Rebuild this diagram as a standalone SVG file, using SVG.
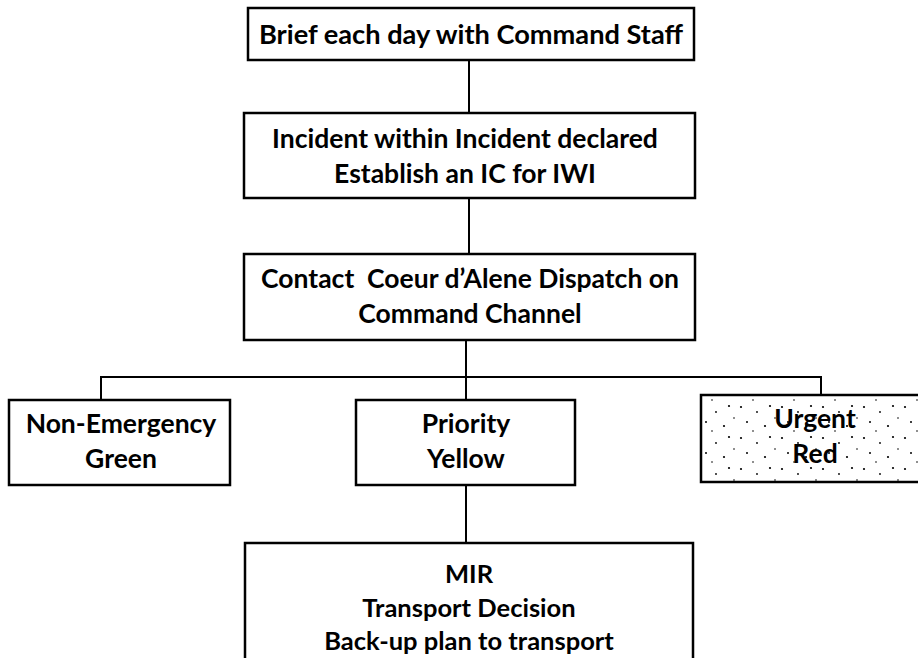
<svg xmlns="http://www.w3.org/2000/svg" width="918" height="658" viewBox="0 0 918 658">
<defs>
<style>
.box{fill:#fff;stroke:#000;stroke-width:2.5}
.t{font-family:Lato,"Liberation Sans",sans-serif;font-weight:bold;font-size:26.5px;text-anchor:middle;fill:#000}
.c{fill:none;stroke:#000;stroke-width:2}
</style>
<pattern id="stip" width="41" height="31" patternUnits="userSpaceOnUse">
<rect width="41" height="31" fill="#fff"/>
<circle cx="3" cy="4" r="1.1" fill="#000"/>
<circle cx="19" cy="9" r="0.9" fill="#000"/>
<circle cx="32" cy="3" r="1.1" fill="#000"/>
<circle cx="9" cy="19" r="1" fill="#000"/>
<circle cx="27" cy="23" r="1.1" fill="#000"/>
<circle cx="37" cy="15" r="0.8" fill="#000"/>
<circle cx="15" cy="28" r="0.8" fill="#000"/>
</pattern>
</defs>
<rect width="918" height="658" fill="#fff"/>
<g id="connectors">
<path class="c" d="M469 61V113"/>
<path class="c" d="M469 198V254"/>
<path class="c" d="M466 340V400"/>
<path class="c" d="M101 400V377H821V395"/>
<path class="c" d="M466 485V543"/>
</g>
<g id="brief">
<rect class="box" x="248" y="8" width="446" height="52"/>
<text class="t" x="471" y="44" style="font-size:27.2px">Brief each day with Command Staff</text>
</g>
<g id="incident">
<rect class="box" x="244" y="113" width="451" height="85"/>
<text class="t" x="465" y="148">Incident within Incident declared</text>
<text class="t" x="465" y="183">Establish an IC for IWI</text>
</g>
<g id="contact">
<rect class="box" x="244" y="254" width="451" height="86"/>
<text class="t" x="470" y="288">Contact &#160;Coeur d’Alene Dispatch on</text>
<text class="t" x="470" y="323">Command Channel</text>
</g>
<g id="nonemergency">
<rect class="box" x="9" y="400" width="221" height="85"/>
<text class="t" x="121" y="433">Non-Emergency</text>
<text class="t" x="121" y="468">Green</text>
</g>
<g id="priority">
<rect class="box" x="356" y="400" width="219" height="85"/>
<text class="t" x="466" y="433">Priority</text>
<text class="t" x="466" y="468">Yellow</text>
</g>
<g id="urgent">
<rect class="box" x="701" y="395" width="220" height="87" style="fill:url(#stip)"/>
<text class="t" x="815" y="428">Urgent</text>
<text class="t" x="815" y="463">Red</text>
</g>
<g id="mir">
<rect class="box" x="245" y="543" width="448" height="130"/>
<text class="t" x="469" y="583" style="font-size:25.5px">MIR</text>
<text class="t" x="469" y="617" style="font-size:25.5px">Transport Decision</text>
<text class="t" x="469" y="650" style="font-size:25.5px">Back-up plan to transport</text>
</g>
</svg>
